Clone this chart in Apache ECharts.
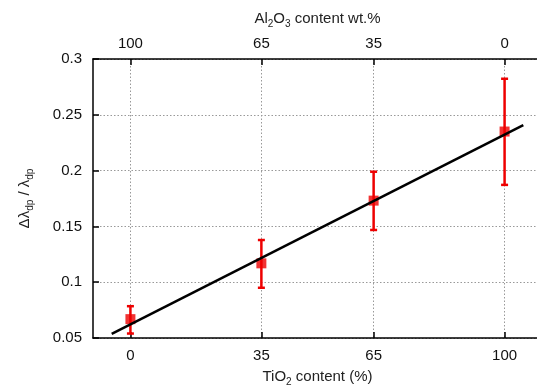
<!DOCTYPE html>
<html>
<head>
<meta charset="utf-8">
<script src="https://cdn.jsdelivr.net/npm/echarts@6/dist/echarts.min.js"></script>
<style>
  html, body { margin: 0; padding: 0; background: #fff; }
  #chart { width: 537px; height: 386px; }
</style>
</head>
<body>
<div id="chart"></div>
<script>
// TiO2 content of the samples (%), bottom axis
const tio2 = [0, 35, 65, 100];
// Al2O3 content (wt.%) for the same samples, top axis
const al2o3 = [100, 65, 35, 0];
// Measured relative width and its error bar limits
const ratio = [0.0669, 0.1169, 0.1731, 0.235];
const errLow = [0.054, 0.095, 0.1468, 0.1872];
const errHigh = [0.0785, 0.1378, 0.199, 0.2823];
// Linear fit endpoints
const fitX = [-5, 105];
const fitY = [0.0537, 0.2407];
// Y tick labels
const yTicks = [0.05, 0.1, 0.15, 0.2, 0.25, 0.3];

const RED = '#ee0000';
const FONT = 'Liberation Sans, Arial, sans-serif';

const rich = {
  a: { fontSize: 15, fontFamily: FONT, color: '#222', lineHeight: 20 },
  s: { fontSize: 10, fontFamily: FONT, color: '#222', lineHeight: 10, verticalAlign: 'bottom' }
};

const chart = echarts.init(document.getElementById('chart'), null, { renderer: 'canvas' });

const tickStyle = { show: true, inside: true, length: 6, lineStyle: { color: '#000', width: 1.5 } };
const axisLine = { show: true, onZero: false, lineStyle: { color: '#000', width: 1.5 } };
const gridLine = { show: true, lineStyle: { color: '#999', width: 1, type: [1.5, 2] } };
const labelStyle = { fontSize: 15, fontFamily: FONT, color: '#111', margin: 11 };

chart.setOption({
  animation: false,
  // plot frame runs slightly past the right edge of the canvas
  grid: { left: 93, top: 59, width: 449, height: 279, containLabel: false, outerBoundsMode: 'none' },
  xAxis: [
    {
      type: 'value', position: 'bottom', min: -10, max: 110,
      axisLine: axisLine,
      axisTick: Object.assign({ customValues: tio2 }, tickStyle),
      axisLabel: Object.assign({}, labelStyle, { customValues: tio2, margin: 10 }),
      splitLine: gridLine,
      name: '{a|TiO}{s|2}{a| content (%)}',
      nameLocation: 'middle', nameGap: 29,
      nameTextStyle: { rich: rich }
    },
    {
      type: 'value', position: 'top', min: -10, max: 110,
      axisLine: axisLine,
      axisTick: Object.assign({ customValues: tio2 }, tickStyle),
      axisLabel: Object.assign({}, labelStyle, {
        customValues: tio2,
        margin: 8,
        formatter: v => String(al2o3[tio2.indexOf(v)])
      }),
      splitLine: { show: false },
      name: '{a|Al}{s|2}{a|O}{s|3}{a| content wt.%}',
      nameLocation: 'middle', nameGap: 30,
      nameTextStyle: { rich: rich }
    }
  ],
  yAxis: [
    {
      type: 'value', min: 0.05, max: 0.3, interval: 0.05,
      axisLine: axisLine,
      axisTick: tickStyle,
      axisLabel: Object.assign({
        formatter: v => String(yTicks.find(t => Math.abs(t - v) < 1e-9) ?? v)
      }, labelStyle),
      splitLine: gridLine,
      name: '{a|Δλ}{s|dp}{a| / λ}{s|dp}',
      nameLocation: 'middle', nameRotate: 90, nameGap: 58,
      nameTextStyle: { rich: rich }
    }
  ],
  series: [
    {
      type: 'custom', xAxisIndex: 0, yAxisIndex: 0, z: 2,
      data: tio2.map((x, i) => [x, errLow[i], errHigh[i]]),
      renderItem: function (params, api) {
        const x = api.value(0);
        const top = api.coord([x, api.value(2)]);
        const bot = api.coord([x, api.value(1)]);
        const w = 3.5;
        const st = { stroke: RED, lineWidth: 2.5 };
        return {
          type: 'group',
          children: [
            { type: 'line', shape: { x1: top[0], y1: top[1], x2: bot[0], y2: bot[1] }, style: st },
            { type: 'line', shape: { x1: top[0] - w, y1: top[1], x2: top[0] + w, y2: top[1] }, style: st },
            { type: 'line', shape: { x1: bot[0] - w, y1: bot[1], x2: bot[0] + w, y2: bot[1] }, style: st }
          ]
        };
      }
    },
    {
      type: 'scatter', xAxisIndex: 0, yAxisIndex: 0, z: 3,
      symbol: 'rect', symbolSize: 10,
      itemStyle: { color: RED },
      data: tio2.map((x, i) => [x, ratio[i]])
    },
    {
      type: 'line', xAxisIndex: 0, yAxisIndex: 0, z: 4,
      symbol: 'none',
      lineStyle: { color: '#000', width: 2.5 },
      data: fitX.map((x, i) => [x, fitY[i]])
    }
  ]
});
</script>
</body>
</html>
